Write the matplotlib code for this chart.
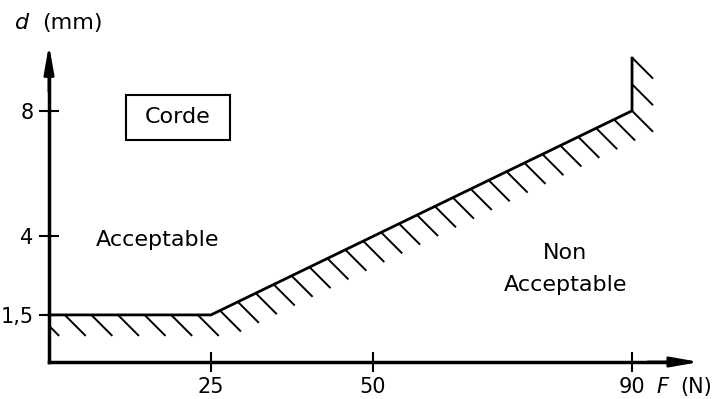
import numpy as np
import matplotlib.pyplot as plt
from matplotlib.collections import LineCollection
from matplotlib.patches import Rectangle

# limit curve: rope diameter d (mm) vs force F (N)
F_curve = [0, 25, 90, 90]
d_curve = [1.5, 1.5, 8, 9.68]

x_ticks = [25, 50, 90]
x_labels = ['25', '50', '90']
y_ticks = [1.5, 4, 8]
y_labels = ['1,5', '4', '8']

F_axis_end = 100.4
d_axis_end = 10.1

plt.rcParams['font.family'] = 'DejaVu Sans'
FS = 16

fig = plt.figure(figsize=(7.13, 3.99), dpi=100)
ax = fig.add_axes([0, 0, 1, 1])
ax.set_xlim(-7.564, 102.50)
ax.set_ylim(-1.178, 11.529)
ax.patch.set_visible(False)

# axes through the origin
for side in ['top', 'right']:
    ax.spines[side].set_visible(False)
for side in ['left', 'bottom']:
    ax.spines[side].set_position(('data', 0))
    ax.spines[side].set_linewidth(2.5)
ax.spines['left'].set_bounds(0, d_axis_end - 0.5)
ax.spines['bottom'].set_bounds(0, F_axis_end - 2.5)

ax.set_xticks(x_ticks, x_labels)
ax.set_yticks(y_ticks, y_labels)
ax.tick_params(direction='inout', length=14, width=1.5, labelsize=15, pad=4)

arrow = dict(arrowstyle='-|>,head_length=1.7,head_width=0.3', lw=2,
             color='black', mutation_scale=10, shrinkA=0, shrinkB=0)
ax.annotate('', xy=(0, d_axis_end), xytext=(0, d_axis_end - 1.5), arrowprops=arrow)
ax.annotate('', xy=(F_axis_end, 0), xytext=(F_axis_end - 8, 0), arrowprops=arrow)

# limit line
ax.plot(F_curve, d_curve, color='black', lw=2, solid_joinstyle='miter')

# hatching on the non acceptable side (45 deg in screen space)
trans = ax.transData
pts = trans.transform(np.column_stack([F_curve, d_curve]))
ext = np.vstack([pts[0] - [30, 0], pts[1:]])
spacing = 26.6
hlen = 21
c_ref = pts[2].sum()
starts = []
for a, b in zip(ext[:-1], ext[1:]):
    ca, cb = a.sum(), b.sum()
    lo, hi = sorted([ca, cb])
    k0 = int(np.ceil((lo - c_ref) / spacing - 0.02))
    k1 = int(np.floor((hi - c_ref) / spacing + 0.05))
    for k in range(k0, k1 + 1):
        c = c_ref + k * spacing
        t = (c - ca) / (cb - ca)
        p = a + t * (b - a)
        if not any(np.hypot(*(p - s)) < 2 for s in starts):
            starts.append(p)

x_axis_px = trans.transform((0, 0))[0]
segs = []
for p in starts:
    q = p + [hlen, -hlen]
    if q[0] <= x_axis_px:
        continue
    if p[0] < x_axis_px:
        p = p + (x_axis_px - p[0]) * np.array([1, -1])
    segs.append(trans.inverted().transform([p, q]))
ax.add_collection(LineCollection(segs, colors='black', linewidths=1.4))

# labels
ax.text(-4.17, 10.8, 'd', style='italic', fontsize=FS, ha='center', va='center')
ax.text(-1.1, 10.8, '(mm)', fontsize=FS, ha='left', va='center')
ax.text(94.7, -0.8, 'F', style='italic', fontsize=15, ha='center', va='center')
ax.text(102.3, -0.8, '(N)', fontsize=15, ha='right', va='center')

ax.add_patch(Rectangle((11.9, 7.07), 16.0, 1.43, fill=False, lw=1.5, ec='black'))
ax.text(19.9, 7.8, 'Corde', fontsize=FS, ha='center', va='center')

ax.text(16.8, 3.89, 'Acceptable', fontsize=FS, ha='center', va='center')
ax.text(79.7, 3.47, 'Non', fontsize=FS, ha='center', va='center')
ax.text(79.7, 2.45, 'Acceptable', fontsize=FS, ha='center', va='center')

fig.savefig('out.png', dpi=100)
